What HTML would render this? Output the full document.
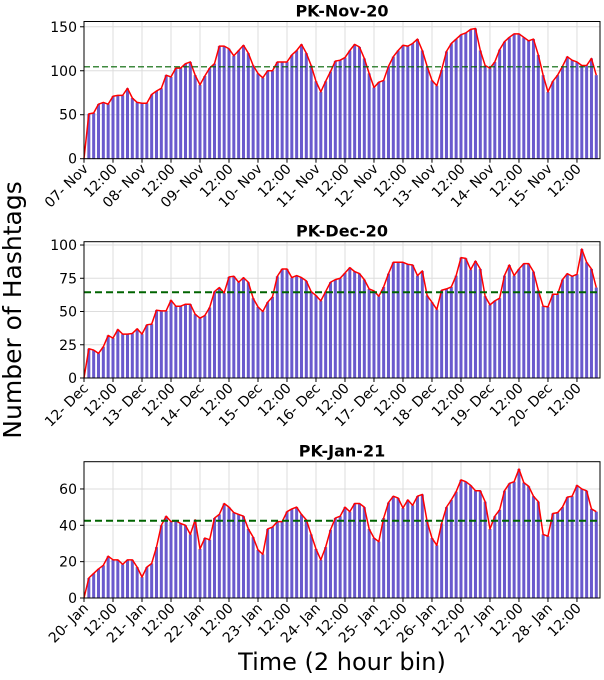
<!DOCTYPE html>
<html><head><meta charset="utf-8"><style>
html,body{margin:0;padding:0;background:#fff;width:604px;height:680px;overflow:hidden}
svg{display:block;font-family:"DejaVu Sans","Liberation Sans",sans-serif}
</style></head><body>
<svg id="chart" width="604" height="680" viewBox="0 0 604 680" xmlns="http://www.w3.org/2000/svg">
<text x="0" y="0" transform="translate(14,310) rotate(-90)" text-anchor="middle" dominant-baseline="middle" font-size="25">Number of Hashtags</text>
<text x="342" y="670" text-anchor="middle" font-size="24">Time (2 hour bin)</text>
</svg>
<script>
const novValues=[0,51,52,62,64,62,71,72,72,80,69,64,63,63,73,77,80,95,93,103,103,108,110,95,84,94,103,108,128,128,125,117,123,129,120,106,97,92,100,100,110,110,110,118,123,130,120,106,88,76,88,99,111,112,115,123,130,127,114,97,81,87,89,105,116,123,129,128,131,136,123,105,89,83,101,122,131,136,141,143,147,148,123,106,103,110,124,133,138,142,142,138,134,136,118,95,76,88,95,105,116,112,110,106,106,114,95];
const decValues=[0,22,21,18.5,23.5,32,30,36.5,33,33,33.5,37,33,40,40.5,51,50.5,50.5,58.5,54,54,55.5,55.5,48,45,47,53,65,68,64,76,76.5,72,75.5,72,60,53.5,50,57,61,76.5,82,82,75.5,77,75.5,73,65,62,58,65,72,74,75,79,83,80,78.5,74,67,65.5,61.5,68.5,78.5,87,87,87,85.5,85,77,80.5,62,57,51.5,66,67,68.5,77,90.5,90,81.5,88,82,61.5,55,58,60,77,85,77,82,86,86,80,66,54,53.5,63,63,74,78.5,76.5,78,97,87,82,68];
const janValues=[0,11,13.5,16,18,23,21,21,18.5,21,21,17,11.5,17,19,28,40,45,42,42.5,41,40,35,43,27,33,32,44,46,52,50,47,46,45,38,33.5,26.5,24,38,39,42,42,47.5,49,50,46,43,35,27,21,28,37.5,44,45,50,47.5,52,52,50,38,33,31,44,52.5,56,55,49.5,54,51,56,57,42,33,29,41,50,54,58.5,65,64,62,59,59,53,38,45,48.5,59,63,64,71,63.5,61.5,56,53,35,34,46.5,47,50,55.5,56,62,60,59,49,47.5];
const novMean=104.5, decMean=64.5, janMean=42.5;
const novYTicks=[0,50,100,150], decYTicks=[0,25,50,75,100], janYTicks=[0,20,40,60];
const novXLabels=["07- Nov","12:00","08- Nov","12:00","09- Nov","12:00","10- Nov","12:00","11- Nov","12:00","12- Nov","12:00","13- Nov","12:00","14- Nov","12:00","15- Nov","12:00"];
const decXLabels=["12- Dec","12:00","13- Dec","12:00","14- Dec","12:00","15- Dec","12:00","16- Dec","12:00","17- Dec","12:00","18- Dec","12:00","19- Dec","12:00","20- Dec","12:00"];
const janXLabels=["20- Jan","12:00","21- Jan","12:00","22- Jan","12:00","23- Jan","12:00","24- Jan","12:00","25- Jan","12:00","26- Jan","12:00","27- Jan","12:00","28- Jan","12:00"];
const titles=["PK-Nov-20","PK-Dec-20","PK-Jan-21"];

const NS="http://www.w3.org/2000/svg";
const svg=document.getElementById('chart');
function mk(tag,attrs,parent){const e=document.createElementNS(NS,tag);for(const k in attrs)e.setAttribute(k,attrs[k]);(parent||svg).appendChild(e);return e;}

function panel(idx,values,mean,yTicks,xLabels,title,top,bottom,yMax){
  const L=84,R=600,step=4.833;
  const g=mk('g',{});
  
  
  const x=i=>L+i*step;
  const y=v=>bottom-(v/yMax)*(bottom-top);
  for(let t=0;t<xLabels.length;t++){
    const gl=mk('line',{x1:x(t*6),x2:x(t*6),y1:top,y2:bottom,stroke:'#dddddd','stroke-width':1},g);
    
    
  }
  yTicks.forEach(v=>{
    const gl=mk('line',{x1:L,x2:R,y1:y(v),y2:y(v),stroke:'#dddddd','stroke-width':1},g);
    
    
  });
  values.forEach((v,i)=>{
    const b=mk('rect',{x:x(i)-1.5,y:y(v),width:3,height:bottom-y(v),fill:'#6a5acd'},g);
    
    
  });
  const ln=mk('polyline',{points:values.map((v,i)=>x(i)+','+y(v)).join(' '),fill:'none',stroke:'#ff0000','stroke-width':1.5,'stroke-linejoin':'round'},g);
  
  
  const ml=mk('line',{x1:L,x2:R,y1:y(mean),y2:y(mean),stroke:'#006400','stroke-width':idx===0?1.2:2,'stroke-dasharray':idx===0?'6,3':'7,4'},g);
  
  
  const fr=mk('rect',{x:L,y:top,width:R-L,height:bottom-top,fill:'none',stroke:'#000','stroke-width':1},g);
  
  
  yTicks.forEach(v=>{
    mk('line',{x1:L-4,x2:L,y1:y(v),y2:y(v),stroke:'#000'},g);
    const t=mk('text',{x:L-7,y:y(v)+5,'text-anchor':'end','font-size':14},g);
    
    
    t.textContent=v;
  });
  xLabels.forEach((lab,t)=>{
    const tx=x(t*6);
    mk('line',{x1:tx,x2:tx,y1:bottom,y2:bottom+4,stroke:'#000'},g);
    const te=mk('text',{x:0,y:0,'text-anchor':'end','font-size':14,transform:'translate('+(tx+5)+','+(bottom+11)+') rotate(-45)'},g);
    
    
    te.textContent=lab;
  });
  const tt=mk('text',{x:(L+R)/2,y:top-5,'text-anchor':'middle','font-size':16,'font-weight':'bold'},g);
  
  
  tt.textContent=title;
}
panel(0,novValues,novMean,novYTicks,novXLabels,titles[0],21.5,158.7,156);
panel(1,decValues,decMean,decYTicks,decXLabels,titles[1],241.7,378,102.5);
panel(2,janValues,janMean,janYTicks,janXLabels,titles[2],461.7,598,75);
</script>
</body></html>
